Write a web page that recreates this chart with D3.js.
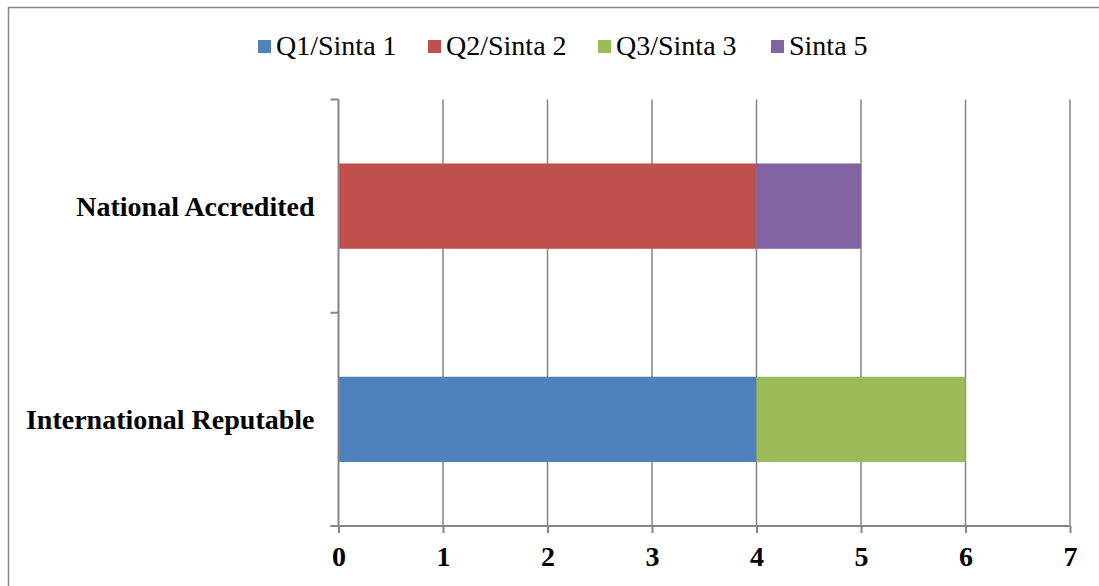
<!DOCTYPE html>
<html>
<head>
<meta charset="utf-8">
<script src="https://cdn.jsdelivr.net/npm/d3@7/dist/d3.min.js"></script>
<style>
  html, body { margin: 0; padding: 0; background: #fff; }
  svg { display: block; }
  svg text { font-family: "Liberation Serif", "Times New Roman", serif !important; }
</style>
</head>
<body>
<svg id="chart" width="1099" height="586"></svg>
<script>
const categories = ["National Accredited", "International Reputable"];
const seriesNames = ["Q1/Sinta 1", "Q2/Sinta 2", "Q3/Sinta 3", "Sinta 5"];
const seriesColors = ["#4F81BD", "#C0504D", "#9BBB59", "#8064A2"];
const q1Values = [0, 4];
const q2Values = [4, 0];
const q3Values = [0, 2];
const sinta5Values = [1, 0];
const xTicks = [0, 1, 2, 3, 4, 5, 6, 7];

const seriesValues = [q1Values, q2Values, q3Values, sinta5Values];
const table = categories.map((c, i) => {
  const row = { category: c };
  seriesNames.forEach((s, j) => row[s] = seriesValues[j][i]);
  return row;
});

const svg = d3.select("#chart");
const gridColor = "#868686";
const fontFam = "'Liberation Serif', 'Times New Roman', serif";

// outer border (top & left visible)
svg.append("path")
  .attr("d", "M8.5,600 L8.5,7.5 L1110,7.5")
  .attr("fill", "none").attr("stroke", "#878787").attr("stroke-width", 1.5);

const plot = { left: 338.5, right: 1070, top: 99.5, bottom: 526 };

const x = d3.scaleLinear().domain([0, 7]).range([plot.left, plot.right]);
const y = d3.scaleBand().domain(categories)
  .range([plot.top, plot.bottom]).paddingInner(0.6).paddingOuter(0.3);

// gridlines
svg.append("g").selectAll("line").data(xTicks.filter(d => d > 0)).join("line")
  .attr("x1", d => x(d)).attr("x2", d => x(d))
  .attr("y1", plot.top).attr("y2", plot.bottom)
  .attr("stroke", gridColor).attr("stroke-width", 1.5);

// bars
const stack = d3.stack().keys(seriesNames);
const stacked = stack(table);
svg.append("g").selectAll("g").data(stacked).join("g")
  .attr("fill", (d, i) => seriesColors[i])
  .selectAll("rect").data(d => d).join("rect")
  .attr("x", d => x(d[0]))
  .attr("width", d => x(d[1]) - x(d[0]))
  .attr("y", d => y(d.data.category))
  .attr("height", y.bandwidth());

// x axis
const xAxis = d3.axisBottom(x).tickValues(xTicks).tickSize(7).tickPadding(13).tickFormat(d3.format("d"));
const gx = svg.append("g").attr("transform", `translate(0,${plot.bottom})`).call(xAxis)
  .attr("font-family", fontFam);
gx.select(".domain").remove();
gx.append("line").attr("x1", plot.left - 8).attr("x2", plot.right)
  .attr("y1", 0).attr("y2", 0).attr("stroke", gridColor).attr("stroke-width", 2);
gx.selectAll(".tick line").attr("stroke", gridColor).attr("stroke-width", 2);
gx.selectAll(".tick text")
  .style("font-family", fontFam)
  .attr("font-size", 28).attr("font-weight", "bold").attr("fill", "#000");

// y axis
const gy = svg.append("g").attr("transform", `translate(${plot.left},0)`);
gy.append("line").attr("x1", 0).attr("x2", 0).attr("y1", plot.top).attr("y2", plot.bottom)
  .attr("stroke", gridColor).attr("stroke-width", 2);
const yTickPos = [plot.top, (plot.top + plot.bottom) / 2, plot.bottom];
gy.selectAll("line.yt").data(yTickPos).join("line").attr("class", "yt")
  .attr("x1", -8).attr("x2", 0).attr("y1", d => d).attr("y2", d => d)
  .attr("stroke", gridColor).attr("stroke-width", 2);
gy.selectAll("text").data(categories).join("text")
  .attr("x", -24)
  .attr("y", d => y(d) + y.bandwidth() / 2)
  .attr("dy", "0.35em")
  .attr("text-anchor", "end")
  .style("font-family", fontFam)
  .attr("font-size", 28).attr("font-weight", "bold").attr("fill", "#000")
  .text(d => d);

// legend
const legendX = [258, 428, 598, 771];
const lg = svg.append("g").selectAll("g").data(seriesNames).join("g")
  .attr("transform", (d, i) => `translate(${legendX[i]},0)`);
lg.append("rect").attr("x", 0).attr("y", 40).attr("width", 13).attr("height", 13)
  .attr("fill", (d, i) => seriesColors[i]);
lg.append("text").attr("x", 18).attr("y", 55)
  .style("font-family", fontFam)
  .attr("font-size", 28).attr("fill", "#000").text(d => d);
</script>
</body>
</html>
